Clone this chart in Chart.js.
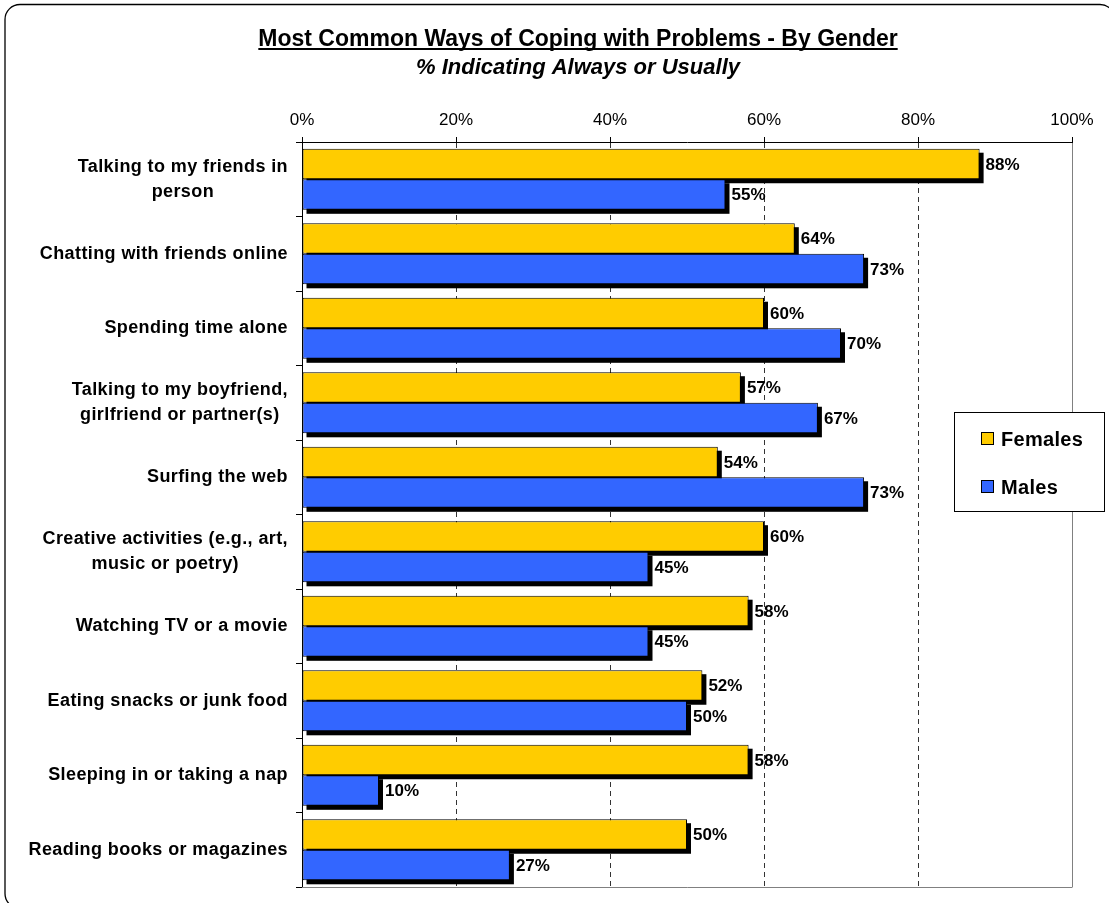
<!DOCTYPE html>
<html>
<head>
<meta charset="utf-8">
<script src="https://cdn.jsdelivr.net/npm/chart.js@4.4.0/dist/chart.umd.min.js"></script>
<style>
  html, body { margin: 0; padding: 0; background: #fff; }
  #wrap { width: 1109px; height: 903px; }
</style>
</head>
<body>
<div id="wrap"><canvas id="coping" width="1109" height="903"></canvas></div>
<script>
// categories, top to bottom
var categories = [
    ['Talking to my friends in', 'person'],
    'Chatting with friends online',
    'Spending time alone',
    ['Talking to my boyfriend,', 'girlfriend or partner(s)'],
    'Surfing the web',
    ['Creative activities (e.g., art,', 'music or poetry)'],
    'Watching TV or a movie',
    'Eating snacks or junk food',
    'Sleeping in or taking a nap',
    'Reading books or magazines'
];
var females = [88, 64, 60, 57, 54, 60, 58, 52, 58, 50];
var males = [55, 73, 70, 67, 73, 45, 45, 50, 10, 27];
var xTicks = [0, 20, 40, 60, 80, 100];
var seriesNames = ['Females', 'Males'];
var seriesColors = ['#FFCC00', '#3366FF'];

var FONT = '"Liberation Sans", Arial, sans-serif';

/**
 * Frame, titles, shadows, value labels, category labels and legend box
 */
var framePlugin = {
    id: 'frame',
    beforeDraw: function(chart) {
        var ctx = chart.ctx;
        ctx.save();
        ctx.fillStyle = '#fff';
        ctx.fillRect(0, 0, chart.width, chart.height);
        ctx.strokeStyle = '#000';
        ctx.lineWidth = 1.3;
        ctx.beginPath();
        ctx.roundRect(5, 4.5, 1110, 904, 15);
        ctx.stroke();

        // title, underlined
        ctx.fillStyle = '#000';
        ctx.textAlign = 'center';
        ctx.textBaseline = 'alphabetic';
        ctx.font = 'bold 23px ' + FONT;
        var title = 'Most Common Ways of Coping with Problems - By Gender';
        ctx.fillText(title, 578, 46);
        var tw = ctx.measureText(title).width;
        ctx.fillRect(578 - tw / 2, 48, tw, 2);
        ctx.font = 'italic bold 22px ' + FONT;
        ctx.fillText('% Indicating Always or Usually', 578, 74);
        ctx.restore();
    },
    beforeDatasetsDraw: function(chart) {
        var ctx = chart.ctx, a = chart.chartArea;
        ctx.save();
        ctx.strokeStyle = '#808080';
        ctx.lineWidth = 1;
        ctx.beginPath();
        ctx.moveTo(a.left, a.bottom + 0.5);
        ctx.lineTo(a.right + 0.5, a.bottom + 0.5);
        ctx.stroke();

        // drop shadows under the bars
        ctx.fillStyle = '#000';
        chart.data.datasets.forEach(function(ds, i) {
            chart.getDatasetMeta(i).data.forEach(function(bar) {
                var p = bar.getProps(['x', 'y', 'base', 'height'], true);
                var left = Math.min(p.base, p.x);
                ctx.fillRect(left + 4, p.y - p.height / 2 + 4, Math.abs(p.x - p.base), p.height);
            });
        });
        ctx.restore();
    },
    afterDatasetsDraw: function(chart) {
        var ctx = chart.ctx;
        ctx.save();
        ctx.fillStyle = '#000';
        ctx.font = 'bold 17px ' + FONT;
        ctx.textAlign = 'left';
        ctx.textBaseline = 'middle';
        chart.data.datasets.forEach(function(ds, i) {
            chart.getDatasetMeta(i).data.forEach(function(bar, j) {
                var p = bar.getProps(['x', 'y'], true);
                ctx.fillText(ds.data[j] + '%', p.x + 6, p.y + 1);
            });
        });

        // category labels, lines centred on each other, block right aligned
        var yScale = chart.scales.y;
        var right = chart.chartArea.left - 14;
        ctx.font = 'bold 18px ' + FONT;
        if ('letterSpacing' in ctx) ctx.letterSpacing = '0.4px';
        ctx.textAlign = 'center';
        chart.data.labels.forEach(function(lbl, i) {
            var lines = Array.isArray(lbl) ? lbl : [lbl];
            var w = 0;
            lines.forEach(function(l) { w = Math.max(w, ctx.measureText(l).width); });
            var cy = yScale.getPixelForTick(i);
            var lh = 25;
            lines.forEach(function(l, k) {
                ctx.fillText(l, right - w / 2, cy + (k - (lines.length - 1) / 2) * lh);
            });
        });
        ctx.restore();
    },
    afterDraw: function(chart) {
        // legend box floating over the plot
        var ctx = chart.ctx;
        ctx.save();
        ctx.fillStyle = '#fff';
        ctx.fillRect(954.5, 412.5, 150, 99);
        ctx.strokeStyle = '#000';
        ctx.lineWidth = 1;
        ctx.strokeRect(954.5, 412.5, 150, 99);
        ctx.font = 'bold 20px ' + FONT;
        if ('letterSpacing' in ctx) ctx.letterSpacing = '0.3px';
        ctx.textAlign = 'left';
        ctx.textBaseline = 'middle';
        seriesNames.forEach(function(name, i) {
            var y = 439 + i * 48;
            ctx.fillStyle = seriesColors[i];
            ctx.fillRect(981.5, y - 6.5, 12, 12);
            ctx.strokeStyle = '#000';
            ctx.strokeRect(981.5, y - 6.5, 12, 12);
            ctx.fillStyle = '#000';
            ctx.fillText(name, 1001, y + 1);
        });
        ctx.restore();
    }
};

var ctx = document.getElementById('coping').getContext('2d');
new Chart(ctx, {
    type: 'bar',
    data: {
        labels: categories,
        datasets: [{
            label: seriesNames[0],
            data: females,
            backgroundColor: seriesColors[0],
            borderColor: '#000',
            borderWidth: 1,
            borderSkipped: false
        }, {
            label: seriesNames[1],
            data: males,
            backgroundColor: seriesColors[1],
            borderColor: '#000',
            borderWidth: 1,
            borderSkipped: false
        }]
    },
    options: {
        indexAxis: 'y',
        responsive: false,
        animation: false,
        categoryPercentage: 0.82,
        barPercentage: 1,
        layout: {
            padding: { top: 100, right: 37, bottom: 16, left: 0 }
        },
        plugins: {
            legend: { display: false },
            title: { display: false },
            tooltip: { enabled: false }
        },
        scales: {
            x: {
                position: 'top',
                min: xTicks[0],
                max: xTicks[xTicks.length - 1],
                afterBuildTicks: function(scale) {
                    scale.ticks = xTicks.map(function(v) { return { value: v }; });
                },
                afterFit: function(scale) { scale.height = 42; },
                ticks: {
                    color: '#000',
                    font: { family: FONT, size: 17 },
                    padding: 6,
                    callback: function(v) { return v + '%'; }
                },
                grid: {
                    color: function(c) {
                        if (c.tick && c.tick.value === 0) return 'rgba(0,0,0,0)';
                        if (c.tick && c.tick.value === 100) return '#808080';
                        return '#333';
                    },
                    tickColor: '#000',
                    tickLength: 5,
                    tickBorderDash: [0, 0]
                },
                border: {
                    color: '#000',
                    dash: function(c) {
                        return (c.tick && c.tick.value > 0 && c.tick.value < 100) ? [5, 4] : [];
                    }
                }
            },
            y: {
                afterFit: function(scale) { scale.width = 302; },
                ticks: { display: false },
                grid: {
                    drawOnChartArea: false,
                    color: '#000',
                    tickLength: 6
                },
                border: { color: '#000', width: 1 }
            }
        }
    },
    plugins: [framePlugin]
});
</script>
</body>
</html>
